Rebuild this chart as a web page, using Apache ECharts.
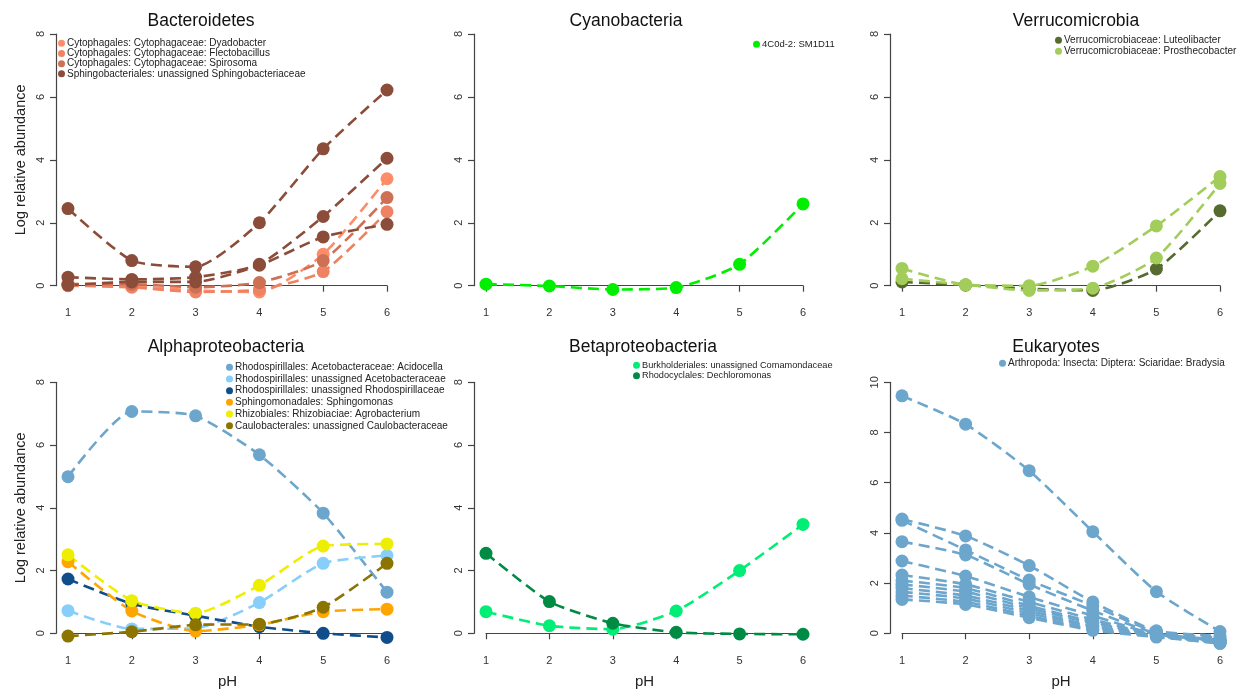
<!DOCTYPE html>
<html>
<head>
<meta charset="utf-8">
<script src="https://cdn.jsdelivr.net/npm/echarts@6/dist/echarts.min.js"></script>
<style>
html,body{margin:0;padding:0;background:#fff;}
#chart{width:1243px;height:692px;}
</style>
</head>
<body>
<div id="chart"></div>
<script>
// ---------- data ----------
const pH = [1, 2, 3, 4, 5, 6];

const panelTitles = ['Bacteroidetes', 'Cyanobacteria', 'Verrucomicrobia',
                     'Alphaproteobacteria', 'Betaproteobacteria', 'Eukaryotes'];

// Bacteroidetes
const bactNames = ['Cytophagales: Cytophagaceae: Dyadobacter',
                   'Cytophagales: Cytophagaceae: Flectobacillus',
                   'Cytophagales: Cytophagaceae: Spirosoma',
                   'Sphingobacteriales: unassigned Sphingobacteriaceae'];
const bactDyado    = [0.02, -0.02, -0.15, -0.20, 1.00, 3.40];
const bactFlecto   = [0.00, -0.05, -0.20, -0.12, 0.45, 2.35];
const bactSpiro    = [0.05, 0.05, -0.05, 0.10, 0.80, 2.80];
const bactSphingoA = [2.45, 0.80, 0.60, 2.00, 4.35, 6.22];
const bactSphingoB = [0.27, 0.20, 0.27, 0.68, 2.20, 4.05];
const bactSphingoC = [0.02, 0.12, 0.12, 0.65, 1.55, 1.95];

// Cyanobacteria
const cyanoNames = ['4C0d-2: SM1D11'];
const cyanoSM1D11 = [0.05, -0.01, -0.12, -0.06, 0.68, 2.60];

// Verrucomicrobia
const verrNames = ['Verrucomicrobiaceae: Luteolibacter',
                   'Verrucomicrobiaceae: Prosthecobacter'];
const verrLuteo   = [0.12, 0.02, -0.10, -0.15, 0.53, 2.38];
const verrProstA  = [0.55, 0.03, 0.00, 0.62, 1.90, 3.47];
const verrProstB  = [0.22, 0.03, -0.15, -0.08, 0.88, 3.25];

// Alphaproteobacteria
const alphaNames = ['Rhodospirillales: Acetobacteraceae: Acidocella',
                    'Rhodospirillales: unassigned Acetobacteraceae',
                    'Rhodospirillales: unassigned Rhodospirillaceae',
                    'Sphingomonadales: Sphingomonas',
                    'Rhizobiales: Rhizobiaciae: Agrobacterium',
                    'Caulobacterales: unassigned Caulobacteraceae'];
const alphaAcidocella = [4.99, 7.07, 6.93, 5.69, 3.83, 1.31];
const alphaAcetobact  = [0.72, 0.14, 0.16, 0.98, 2.23, 2.48];
const alphaRhodospir  = [1.73, 0.94, 0.56, 0.21, 0.00, -0.13];
const alphaSphingo    = [2.28, 0.71, 0.07, 0.27, 0.69, 0.77];
const alphaAgrobact   = [2.50, 1.04, 0.64, 1.53, 2.78, 2.85];
const alphaCaulobact  = [-0.09, 0.05, 0.27, 0.29, 0.83, 2.23];

// Betaproteobacteria
const betaNames = ['Burkholderiales: unassigned Comamondaceae',
                   'Rhodocyclales: Dechloromonas'];
const betaComamon = [0.69, 0.24, 0.13, 0.71, 2.00, 3.47];
const betaDechlor = [2.55, 1.01, 0.32, 0.03, -0.02, -0.03];

// Eukaryotes (many OTUs of one genus)
const eukNames = ['Arthropoda: Insecta: Diptera: Sciaridae: Bradysia'];
const eukBradysia = [
  [9.46, 8.33, 6.48, 4.05, 1.66, 0.07],
  [4.55, 3.88, 2.70, 1.25, 0.10, -0.10],
  [4.50, 3.32, 2.12, 1.10, 0.05, -0.18],
  [3.65, 3.12, 1.95, 0.90, 0.00, -0.25],
  [2.88, 2.28, 1.45, 0.70, -0.05, -0.28],
  [2.32, 1.95, 1.25, 0.55, -0.05, -0.30],
  [2.10, 1.80, 1.10, 0.45, -0.08, -0.32],
  [1.95, 1.65, 1.00, 0.40, -0.10, -0.35],
  [1.80, 1.50, 0.90, 0.30, -0.10, -0.35],
  [1.65, 1.38, 0.80, 0.25, -0.12, -0.38],
  [1.50, 1.25, 0.70, 0.18, -0.12, -0.40],
  [1.35, 1.15, 0.62, 0.12, -0.15, -0.40]
];

const yTicksMax = [8, 8, 8, 8, 8, 10];

// ---------- layout ----------
const colLeft = [68, 486, 902];
const colWidth = [319, 317, 318];
const rowTop = [34, 382.3];
const rowHeight = [251.7, 251];
const titleCenter = [[201, 23], [626, 23], [1076, 23], [226, 349], [643, 349], [1056, 349]];
const legendPos = [[58, 38], [753, 39], [1055, 35], [226, 362], [633, 360], [999, 358]];
const legendGap = [-0.3, 0, 0.5, 1.2, 0, 0];
const legendFont = [10, 9.5, 10, 10, 9.2, 10];

const FONT = 'Liberation Sans, Arial, Helvetica, sans-serif';

const panels = [
  { names: bactNames, series: [
      [bactNames[0], '#FF8C69', bactDyado],
      [bactNames[1], '#EE8262', bactFlecto],
      [bactNames[2], '#CD7054', bactSpiro],
      [bactNames[3], '#8B4C39', bactSphingoA],
      [bactNames[3], '#8B4C39', bactSphingoB],
      [bactNames[3], '#8B4C39', bactSphingoC]
  ]},
  { names: cyanoNames, series: [[cyanoNames[0], '#00EE00', cyanoSM1D11]] },
  { names: verrNames, series: [
      [verrNames[0], '#556B2F', verrLuteo],
      [verrNames[1], '#A2CD5A', verrProstA],
      [verrNames[1], '#A2CD5A', verrProstB]
  ]},
  { names: alphaNames, series: [
      [alphaNames[0], '#6CA6CD', alphaAcidocella],
      [alphaNames[1], '#87CEFA', alphaAcetobact],
      [alphaNames[2], '#104E8B', alphaRhodospir],
      [alphaNames[3], '#FFA500', alphaSphingo],
      [alphaNames[4], '#EEEE00', alphaAgrobact],
      [alphaNames[5], '#8B7500', alphaCaulobact]
  ]},
  { names: betaNames, series: [
      [betaNames[0], '#00EE76', betaComamon],
      [betaNames[1], '#008B45', betaDechlor]
  ]},
  { names: eukNames, series: eukBradysia.map(d => [eukNames[0], '#6CA6CD', d]) }
];

const grid = [], xAxis = [], yAxis = [], series = [], title = [], legend = [];
panels.forEach((p, i) => {
  const col = i % 3, row = Math.floor(i / 3);
  const colorMap = {};
  p.series.forEach(s => { colorMap[s[0]] = s[1]; });
  grid.push({ left: colLeft[col], width: colWidth[col], top: rowTop[row], height: rowHeight[row] });
  xAxis.push({
    type: 'value', gridIndex: i, min: 1, max: 6, interval: 1, offset: 10,
    name: row === 1 ? 'pH' : '', nameLocation: 'middle', nameGap: 31,
    nameTextStyle: { fontSize: 15, color: '#222', fontFamily: FONT },
    axisLine: { lineStyle: { color: '#444', width: 1.2 } },
    axisTick: { length: 6, lineStyle: { color: '#444', width: 1.2 } },
    axisLabel: { fontSize: 11, color: '#333', margin: 12, fontFamily: FONT },
    splitLine: { show: false }
  });
  yAxis.push({
    type: 'value', gridIndex: i, min: 0, max: yTicksMax[i], interval: 2, offset: 12,
    name: col === 0 ? 'Log relative abundance' : '', nameLocation: 'middle', nameGap: 28,
    nameTextStyle: { fontSize: 14.5, color: '#222', fontFamily: FONT },
    axisLine: { show: true, lineStyle: { color: '#444', width: 1.2 } },
    axisTick: { show: true, length: 6, lineStyle: { color: '#444', width: 1.2 } },
    axisLabel: { fontSize: 11, color: '#333', rotate: 90, margin: 10, fontFamily: FONT },
    splitLine: { show: false }
  });
  title.push({
    text: panelTitles[i], left: titleCenter[i][0], top: titleCenter[i][1] - 11, textAlign: 'center',
    padding: 0,
    textStyle: { fontSize: 17.5, fontWeight: 'normal', color: '#111', fontFamily: FONT }
  });
  legend.push({
    data: p.names.map(n => ({ name: n, itemStyle: { color: colorMap[n] } })),
    orient: 'vertical', left: legendPos[i][0], top: legendPos[i][1], padding: 0,
    icon: 'circle', itemWidth: 7, itemHeight: 7, itemGap: legendGap[i],
    textStyle: { fontSize: legendFont[i], color: '#222', fontFamily: FONT, lineHeight: 10.5, padding: [0, 0, 0, -3] },
    selectedMode: false
  });
  p.series.forEach(s => {
    series.push({
      type: 'line', name: s[0], xAxisIndex: i, yAxisIndex: i,
      data: pH.map((x, k) => [x, s[2][k]]),
      smooth: 0.2, clip: false,
      symbol: 'circle', symbolSize: 13,
      itemStyle: { color: s[1] },
      lineStyle: { color: s[1], width: 2.6, type: [11, 6] },
      emphasis: { disabled: true }
    });
  });
});

const chart = echarts.init(document.getElementById('chart'), null, { renderer: 'canvas' });
chart.setOption({
  animation: false,
  backgroundColor: '#ffffff',
  title, legend, grid, xAxis, yAxis, series
});
</script>
</body>
</html>
